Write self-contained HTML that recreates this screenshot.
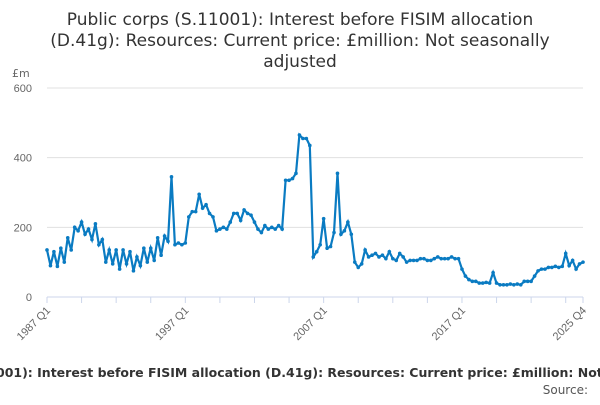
<!DOCTYPE html>
<html><head><meta charset="utf-8"><style>
body{margin:0;width:600px;height:400px;overflow:hidden;background:#fff;font-family:"Liberation Sans","DejaVu Sans",sans-serif}
</style></head><body>
<svg width="600" height="400" xmlns="http://www.w3.org/2000/svg">
<g font-family="DejaVu Sans, sans-serif" font-size="17" fill="#333" text-anchor="middle">
<text x="300" y="25">Public corps (S.11001): Interest before FISIM allocation</text>
<text x="300" y="46">(D.41g): Resources: Current price: £million: Not seasonally</text>
<text x="300" y="67">adjusted</text>
</g>
<text x="12" y="77" font-size="11" fill="#666" font-family="DejaVu Sans, sans-serif">£m</text>
<g id="grid"></g>
<g id="xaxis"></g>
<path id="line" fill="none" stroke="#0a7bc2" stroke-width="2.2"/>
<g id="pts"></g>
<text x="-4" y="377" font-size="12.5" font-weight="bold" fill="#333" font-family="DejaVu Sans, sans-serif">001): Interest before FISIM allocation (D.41g): Resources: Current price: £million: Not</text>
<text x="588" y="394" font-size="12" fill="#555" text-anchor="end" font-family="DejaVu Sans, sans-serif">Source:</text>
</svg>
<script>
const yTicks=[0,200,400,600];
const xLabels=["1987 Q1","1997 Q1","2007 Q1","2017 Q1","2025 Q4"];
const xLabelIdx=[0,40,80,120,155];
const values=[135,90,130,88,140,100,170,135,200,190,215,180,195,165,210,150,
165,100,135,95,135,80,135,95,130,75,115,90,140,100,140,105,
170,120,175,160,345,150,155,150,
155,230,245,245,295,255,265,240,230,190,195,200,195,215,240,240,220,250,240,235,
215,195,185,205,195,200,195,205,195,335,335,340,355,465,455,455,435,115,130,150,
225,140,145,185,355,180,190,215,180,100,85,95,135,115,120,125,115,120,110,130,
110,105,125,115,100,105,105,105,110,110,105,105,110,115,110,110,110,115,110,110,
80,60,50,45,45,40,40,42,40,70,40,35,35,35,37,35,37,35,45,45,45,60,75,80,80,85,85,88,
85,88,125,90,105,80,95,100];
const NS="http://www.w3.org/2000/svg";
const x0=47,x1=583,y0=297,y1=88;
const xs=i=>x0+(x1-x0)*i/(values.length-1);
const ys=v=>y0-(y0-y1)*v/600;
const grid=document.getElementById('grid');
yTicks.forEach(t=>{
 const l=document.createElementNS(NS,'line');
 l.setAttribute('x1',x0);l.setAttribute('x2',x1);l.setAttribute('y1',ys(t));l.setAttribute('y2',ys(t));
 l.setAttribute('stroke',t===0?'#ccd6eb':'#e0e0e0');
 
 
 grid.appendChild(l);
 const tx=document.createElementNS(NS,'text');
 tx.setAttribute('x',32);tx.setAttribute('y',ys(t)+4);tx.setAttribute('text-anchor','end');
 tx.setAttribute('font-size','11');tx.setAttribute('fill','#666');
 tx.textContent=t;
 
 
 grid.appendChild(tx);
});
const xa=document.getElementById('xaxis');
for(let i=0;i<values.length;i+=10){
 const l=document.createElementNS(NS,'line');
 l.setAttribute('x1',xs(i));l.setAttribute('x2',xs(i));l.setAttribute('y1',y0);l.setAttribute('y2',y0+6);
 l.setAttribute('stroke','#ccd6eb');
 
 
 xa.appendChild(l);
}
{const l=document.createElementNS(NS,'line');
 l.setAttribute('x1',x1);l.setAttribute('x2',x1);l.setAttribute('y1',y0);l.setAttribute('y2',y0+6);
 l.setAttribute('stroke','#ccd6eb');
 
 
 xa.appendChild(l);}
xLabels.forEach((s,k)=>{
 const x=xs(xLabelIdx[k])+4,y=y0+14;
 const tx=document.createElementNS(NS,'text');
 tx.setAttribute('x',x);tx.setAttribute('y',y);tx.setAttribute('text-anchor','end');
 tx.setAttribute('font-size','11');tx.setAttribute('fill','#666');
 tx.setAttribute('transform',`rotate(-45 ${x} ${y})`);
 tx.textContent=s;
 
 
 xa.appendChild(tx);
});
document.getElementById('line').setAttribute('d',values.map((v,i)=>(i?'L':'M')+xs(i).toFixed(1)+' '+ys(v).toFixed(1)).join(''));
const pts=document.getElementById('pts');
values.forEach((v,i)=>{
 const c=document.createElementNS(NS,'circle');
 c.setAttribute('cx',xs(i));c.setAttribute('cy',ys(v));c.setAttribute('r',1.8);c.setAttribute('fill','#0a7bc2');
 
 
 pts.appendChild(c);
});
</script>
</body></html>
